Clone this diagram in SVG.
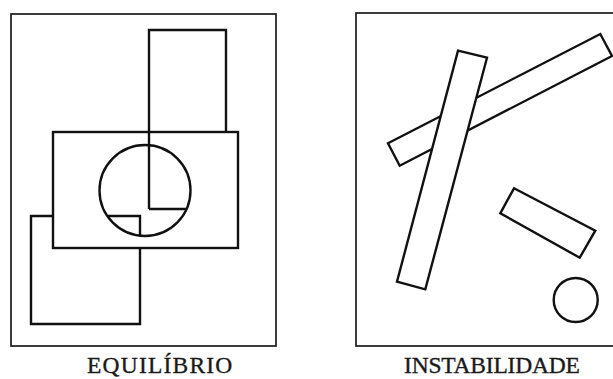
<svg xmlns="http://www.w3.org/2000/svg" width="613" height="379" viewBox="0 0 613 379">
<style>
.frame{fill:none;stroke:#1a1a1a;stroke-width:1.7}
.ln{fill:none;stroke:#111;stroke-width:2.4;stroke-linejoin:miter}
.sh{fill:#fff;stroke:#111;stroke-width:2.4;stroke-linejoin:miter}
.lbl{font-family:"Liberation Serif","Times New Roman",serif;font-size:23.5px;fill:#1a1a1a;stroke:#1a1a1a;stroke-width:0.35}
</style>
<rect width="613" height="379" fill="#fff"/>
<g id="equilibrio">
  <rect class="frame" x="11" y="14" width="265" height="332"/>
  <g id="top-rect"><path class="ln" d="M149,209 V30 H226 V132 M149,209 H186.6"/></g>
  <g id="middle-rect"><rect class="ln" x="53" y="132" width="185" height="116"/></g>
  <g id="circle-left"><circle class="ln" cx="145" cy="190.5" r="45.5"/></g>
  <g id="bottom-rect"><path class="ln" d="M53,216 H31 V324 H140 V248 M107.3,216 H140 V235.7"/></g>
  <text class="lbl" x="87" y="373" style="letter-spacing:1.2px">EQUILÍBRIO</text>
</g>
<g id="instabilidade">
  <rect class="frame" x="356" y="13" width="280" height="333"/>
  <g id="diag-bar"><polygon class="sh" points="388,143.3 600.3,34 612,56 399.7,165.7"/></g>
  <g id="long-bar"><polygon class="sh" points="458,50.7 487,57.7 425.3,289.3 397,281.7"/></g>
  <g id="small-bar"><polygon class="sh" points="514,188.3 595.3,230.7 579.7,257.7 500.3,213.3"/></g>
  <g id="circle-right"><circle class="ln" cx="575.7" cy="300" r="22"/></g>
  <text class="lbl" x="404" y="373" style="letter-spacing:-0.2px">INSTABILIDADE</text>
</g>
</svg>
